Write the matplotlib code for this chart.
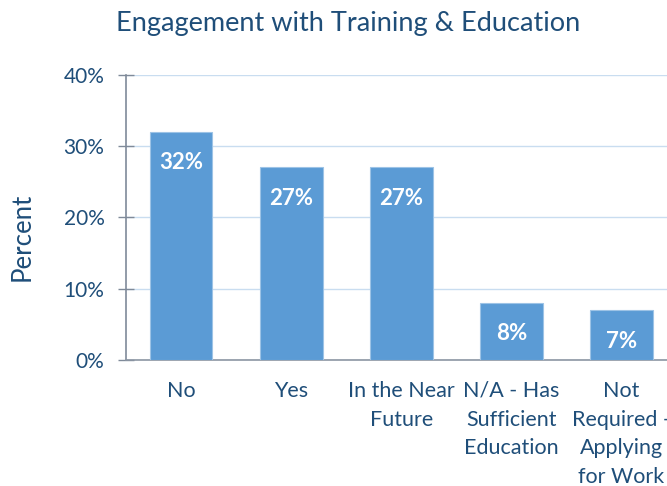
import matplotlib
matplotlib.use("Agg")
from matplotlib import pyplot as plt
from matplotlib.ticker import PercentFormatter

categories = ["No", "Yes", "In the Near\nFuture", "N/A - Has\nSufficient\nEducation",
              "Not\nRequired -\nApplying\nfor Work"]
percents = [32, 27, 27, 8, 7]
y_ticks = [0, 10, 20, 30, 40]

text_col = "#1F4E79"
bar_col = "#5B9BD5"

plt.rcParams["font.family"] = ["Lato", "DejaVu Sans"]

fig = plt.figure(figsize=(6.67, 4.86), dpi=100)
ax = fig.add_axes([126 / 667, 126 / 486, 550.5 / 667, 285.3 / 486])

x = range(len(categories))
bars = ax.bar(x, percents, width=0.57, color=bar_col, edgecolor="#9DC3E6",
              linewidth=0.8, zorder=3)
for b, v in zip(bars, percents):
    ax.annotate(f"{v}%", (b.get_x() + b.get_width() / 2, v), xytext=(0, -31),
                textcoords="offset pixels", ha="center", va="center",
                color="white", fontsize=16, fontweight="bold", zorder=4)

ax.set_xlim(-0.5, len(categories) - 0.5)
ax.set_ylim(0, 40)
ax.set_yticks(y_ticks)
ax.yaxis.set_major_formatter(PercentFormatter(decimals=0))
ax.yaxis.grid(True, color="#C9DDF0", linewidth=1, zorder=0)

ax.set_xticks(list(x))
ax.set_xticklabels(categories, linespacing=1.55)
ax.tick_params(axis="x", length=0, pad=15, labelsize=15.5, labelcolor=text_col)
ax.tick_params(axis="y", direction="inout", length=11, width=1, color="#7F8A99",
               pad=10, labelsize=15, labelcolor=text_col)

for s in ["top", "right"]:
    ax.spines[s].set_visible(False)
ax.spines["left"].set_color("#7F8A99")
ax.spines["bottom"].set_color("#8C96A3")
ax.spines["left"].set_linewidth(1.2)
ax.spines["bottom"].set_linewidth(1.2)

ax.set_ylabel("Percent", fontsize=18.5, color=text_col, labelpad=21)
ax.yaxis.label.set_y(0.43)

fig.text(348 / 667, 1 - 24 / 486, "Engagement with Training & Education",
         ha="center", va="center", fontsize=19.5, color=text_col)

fig.savefig("out.png", dpi=100)
